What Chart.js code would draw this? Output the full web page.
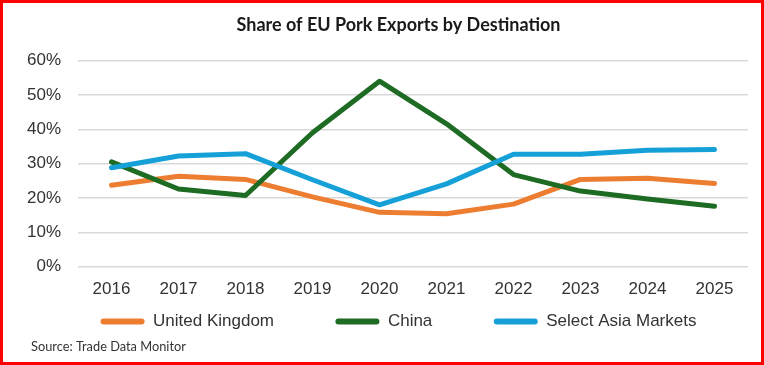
<!DOCTYPE html>
<html>
<head>
<meta charset="utf-8">
<script src="https://cdn.jsdelivr.net/npm/chart.js@4/dist/chart.umd.min.js"></script>
<style>
  html, body { margin: 0; padding: 0; background: #fff; }
  #frame { width: 764px; height: 365px; box-sizing: border-box; border: 3px solid #ff0000; }
  #wrap { width: 758px; height: 359px; }
</style>
</head>
<body>
<div id="frame"><div id="wrap"><canvas id="chart"></canvas></div></div>
<script>
// values (percent share)
const years = ['2016', '2017', '2018', '2019', '2020', '2021', '2022', '2023', '2024', '2025'];
const ukShare = [23.7, 26.3, 25.4, 20.3, 15.8, 15.4, 18.2, 25.4, 25.7, 24.2];
const chinaShare = [30.5, 22.6, 20.7, 39.0, 54.0, 41.6, 26.8, 22.0, 19.7, 17.6];
const asiaShare = [28.8, 32.2, 32.9, 25.3, 18.0, 24.1, 32.7, 32.7, 33.9, 34.1];
const yMin = 0, yMax = 60, yStep = 10;

const sourceNote = {
  id: 'sourceNote',
  afterDraw(chart) {
    const c = chart.ctx;
    c.save();
    c.font = '12.8px Lato';
    c.fillStyle = '#333';
    c.textBaseline = 'middle';
    c.fillText('Source: Trade Data Monitor', 28, 344);
    c.restore();
  }
};

const ctx = document.getElementById('chart').getContext('2d');

function series(label, values, color, order) {
  return {
    label: label,
    data: values,
    borderColor: color,
    backgroundColor: color,
    borderWidth: 5,
    borderCapStyle: 'round',
    borderJoinStyle: 'round',
    pointRadius: 0,
    tension: 0,
    fill: false,
    order: order
  };
}

const myChart = new Chart(ctx, {
  type: 'line',
  data: {
    labels: years,
    datasets: [
      series('United Kingdom', ukShare, '#ED7D31', 3),
      series('China', chinaShare, '#1E6B23', 2),
      series('Select Asia Markets', asiaShare, '#15A0D8', 1)
    ]
  },
  plugins: [sourceNote],
  options: {
    responsive: true,
    maintainAspectRatio: false,
    animation: false,
    layout: { padding: { left: 7, right: -26, top: 0, bottom: 22 } },
    plugins: {
      title: {
        display: true,
        text: 'Share of EU Pork Exports by Destination',
        color: '#1a1a1a',
        font: { family: 'Lato', size: 18, weight: 'bold' },
        padding: { top: 11, bottom: 25 }
      },
      legend: {
        position: 'bottom',
        labels: {
          color: '#333',
          font: { family: 'Liberation Sans', size: 17 },
          boxWidth: 44,
          boxHeight: 6,
          useBorderRadius: true,
          borderRadius: 3,
          padding: 0,
          generateLabels(chart) {
            const items = Chart.defaults.plugins.legend.labels.generateLabels(chart);
            items.sort((a, b) => a.datasetIndex - b.datasetIndex);
            items.forEach((it, i) => {
              it.lineWidth = 0;
              it.fillStyle = it.strokeStyle;
              if (i < items.length - 1) it.text += ' '.repeat(13);
            });
            return items;
          }
        }
      },
      tooltip: { enabled: false }
    },
    scales: {
      x: {
        offset: true,
        grid: { display: false, drawTicks: false },
        border: { display: false },
        ticks: { color: '#333', padding: 13, font: { family: 'Liberation Sans', size: 17 } }
      },
      y: {
        min: yMin,
        max: yMax,
        grid: { color: '#d9d9d9', lineWidth: 1.5, drawTicks: false },
        border: { display: false },
        ticks: {
          stepSize: yStep,
          padding: 17,
          color: '#333',
          font: { family: 'Liberation Sans', size: 17 },
          callback: v => v + '%'
        }
      },
      // empty spacer on the right so title and legend centre like the reference
      spacer: {
        type: 'linear',
        position: 'right',
        grid: { display: false },
        border: { display: false },
        ticks: { display: false },
        afterFit(scale) { scale.width = 39; }
      }
    }
  }
});
</script>
</body>
</html>
